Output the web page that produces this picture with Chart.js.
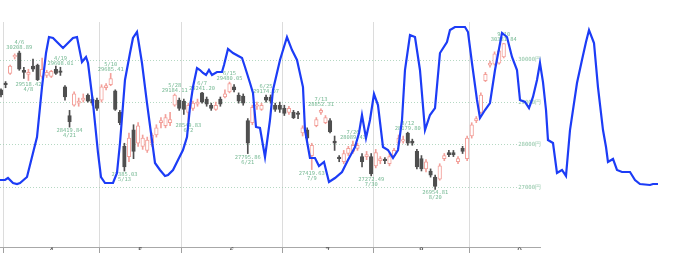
<!DOCTYPE html>
<html>
<head>
<meta charset="utf-8">
<script src="https://cdn.jsdelivr.net/npm/chart.js@4.4.0/dist/chart.umd.min.js"></script>
<style>
  html, body { margin: 0; padding: 0; background: #fff; }
  #wrap { position: relative; width: 689px; height: 254px; overflow: hidden; }
  #candles, #overlay { position: absolute; left: 0; top: 0; }
  #overlay { pointer-events: none; }
</style>
</head>
<body>
<div id="wrap">
  <canvas id="candles" width="541" height="254"></canvas>
  <canvas id="overlay" width="689" height="254"></canvas>
</div>
<script>
// daily candles, index 0 = 3/31, 1 = 4/1 ... 110 = 9/10
const opens = [29298,29443,29685,30072,30169,29758,29661,29855,29879,29613,
  29637,29613,29782,29734,29371,28693,28935,28984,29056,29177,
  29080,29056,29056,29347,29419,29274,28766,27968,27726,28355,
  28040,27968,27871,28040,28234,28524,28452,28524,28935,29056,
  29032,28766,28863,28960,29230,29080,28935,28839,29080,29129,
  29250,29371,29177,29153,28573,28524,28911,28839,29129,29129,
  28935,28935,28863,28766,28766,28742,28282,28355,27750,28452,
  28766,28524,28573,28089,27702,27605,27798,27847,27919,27726,
  27726,27726,27508,27629,27653,27557,27750,28040,28089,28282,
  28089,27847,27677,27436,27387,27242,27194,27677,27823,27823,
  27605,27919,27677,28210,28573,28766,29516,29879,29903,29927,
  30072];
const highs = [29322,29492,29879,30145,30209,29830,29782,30024,29903,30048,
  29758,29758,29855,29830,29395,28814,29250,29105,29201,29201,
  29129,29105,29419,29443,29685,29298,28814,28040,28282,28476,
  28524,28234,28185,28282,28476,28645,28718,28766,29201,29105,
  29080,28984,29032,29080,29241,29129,28984,29008,29129,29298,
  29480,29419,29226,29201,28621,28935,29008,28984,29174,29177,
  28984,29008,28935,28911,28814,28790,28452,28403,28040,28645,
  28852,28693,28621,28210,27750,27871,27968,28089,28040,27798,
  27847,27798,27895,27726,27702,27798,27919,28234,28210,28300,
  28137,27895,27750,27653,27436,27290,27557,27798,27871,27871,
  27726,27968,28210,28524,28669,29226,29709,29975,30193,30266,
  30390];
const lows = [29129,29347,29661,30024,29758,29564,29518,29734,29516,29564,
  29588,29588,29661,29637,29056,28420,28911,28911,29008,29008,
  28935,28814,29008,29298,29395,28814,28476,27385,27605,27677,
  27968,27895,27823,27968,28185,28403,28403,28452,28911,28814,
  28718,28550,28814,28911,28984,28911,28814,28814,28911,29105,
  29226,29250,28984,28935,27796,28476,28839,28814,29008,28984,
  28790,28766,28693,28718,28621,28621,28210,28113,27420,28427,
  28718,28500,28282,27871,27605,27557,27750,27798,27871,27484,
  27653,27272,27460,27557,27557,27508,27726,27992,28040,27992,
  27992,27436,27387,27363,27242,26954,27170,27629,27726,27726,
  27557,27798,27629,28161,28524,28742,29492,29830,29879,29903,
  30048];
const closes = [29177,29419,29855,30097,29782,29709,29709,29782,29540,29782,
  29709,29734,29685,29709,29129,28548,29201,29032,29105,29032,
  28984,28863,29371,29395,29564,28839,28524,27484,28161,27847,
  28452,28161,28113,28234,28403,28573,28645,28597,29177,28863,
  28839,28935,28984,29008,29008,28960,28863,28935,28960,29201,
  29443,29298,29032,28984,28040,28887,28935,28935,29056,29032,
  28839,28839,28742,28863,28645,28718,28403,28161,27992,28597,
  28814,28645,28306,28040,27677,27798,27919,27992,27992,27605,
  27774,27315,27823,27677,27629,27726,27871,28161,28113,28040,
  28040,27484,27436,27605,27290,27024,27508,27750,27774,27774,
  27677,27847,28161,28476,28621,29177,29661,29927,30145,30217,
  30387];

// month boundaries in trading-day index, and month names
const monthStarts = [0.5, 21.5, 39.5, 61.5, 81.5, 102.5, 124.5];
const monthNames = ['4', '5', '6', '7', '8', '9'];
const yTicks = [27000, 28000, 29000, 30000];

// high / low annotations
const markIndex = [4, 6, 13, 15, 24, 27, 38, 41, 44, 50, 54, 58, 68, 70, 77, 81, 89, 95, 110];
const markSide = ['high','low','high','low','high','low','high','low','high','high','low','high','low','high','high','low','high','low','high'];
const markDate = ['4/6','4/8','4/19','4/21','5/10','5/13','5/28','6/2','6/7','6/15','6/21','6/25','7/9','7/13','7/26','7/30','8/12','8/20','9/10'];
const markText = ['30208.89','29518.42','29608.01','28419.84','29685.41','27385.03','29184.11','28549.83','29241.20','29480.05','27795.86','29174.07','27419.63','28852.31','28089.43','27272.49','28179.80','26954.81','30381.84'];

// blue overlay series
const lineX = [-0.22,0.88,1.53,2.63,3.5,4.16,5.69,7.0,7.88,8.97,
  9.85,10.5,11.38,12.47,13.57,14.66,15.75,16.63,17.72,18.6,
  19.04,20.13,21.23,21.88,22.76,24.51,25.38,26.04,27.13,28.23,
  28.88,29.76,30.85,31.95,32.82,33.7,34.79,35.89,36.54,37.64,
  38.73,39.82,40.7,41.36,42.01,42.89,43.54,44.2,44.86,45.51,
  46.17,47.26,48.36,48.8,49.67,50.77,52.74,53.39,54.49,55.14,
  55.8,56.67,57.77,58.86,59.52,61.05,62.58,63.68,64.77,66.08,
  66.52,67.61,68.71,69.58,70.68,71.77,73.09,74.62,75.93,77.46,
  78.34,78.99,79.87,80.74,81.62,82.49,83.59,84.68,85.78,86.87,
  87.75,88.4,89.5,90.59,91.68,92.78,93.87,94.97,96.06,97.59,
  98.25,99.34,101.53,102.19,103.06,104.16,104.81,105.91,107,108.1,
  109.63,110.72,111.82,112.91,113.57,114.66,115.54,116.41,117.29,117.94,
  118.6,119.26,119.69,120.79,121.66,122.76,123.63,124.51,126.04,127.13,
  128.01,128.67,129.76,130.63,131.73,132.39,132.82,133.92,134.79,135.89,
  137.64,138.73,139.82,142.01,142.67,143.76];
const lineY = [27073,27073,27121,27000,26976,27000,27145,27726,28113,29322,
  30145,30532,30508,30387,30266,30387,30508,30532,29927,30048,
  29903,28935,27726,27145,27000,27000,27242,27968,29492,30145,
  30508,30653,29903,28935,28210,27484,27315,27170,27194,27315,
  27557,27798,28113,28839,29322,29782,29734,29661,29613,29734,
  29613,29685,29685,29855,30242,30145,30024,29806,29419,29177,
  28355,28331,27629,28524,29250,29976,30532,30217,29976,29322,
  28282,27605,27605,27411,27508,27024,27121,27266,27557,27871,
  28210,28645,28089,28524,29153,28887,27871,27798,27605,27798,
  28524,29734,30580,30532,29734,28282,28645,28814,30145,30411,
  30701,30774,30774,30653,29903,29008,28573,28766,28935,29734,
  30629,30532,30048,29734,29008,28960,28814,29081,29492,29903,
  29443,28766,28040,27968,27242,27315,27170,28282,29419,29976,
  30411,30701,30387,29322,28282,27871,27508,27581,27315,27266,
  27266,27073,26976,26952,26976,26976];

const Y_MIN = 25597, Y_MAX = 30895;
const UP = '#f3a09a', DOWN = '#4f4f4f';
const MARK_COLOR = 'rgba(70,160,110,0.75)';
const MONO = '"DejaVu Sans Mono", monospace';

const idx = opens.map((_, i) => i);
const isUp = idx.map(i => closes[i] >= opens[i]);

const monthMids = monthNames.map((_, k) => (monthStarts[k] + monthStarts[k + 1]) / 2);
const monthLabel = new Map(monthMids.map((v, k) => [v, monthNames[k]]));
const boundarySet = new Set(monthStarts.slice(0, -1));

const priceMarks = {
  id: 'priceMarks',
  afterDatasetsDraw(chart) {
    const { ctx, scales: { x, y } } = chart;
    ctx.save();
    ctx.font = '5.4px ' + MONO;
    ctx.fillStyle = MARK_COLOR;
    ctx.textAlign = 'center';
    markIndex.forEach((i, k) => {
      const px = x.getPixelForValue(i);
      if (markSide[k] === 'high') {
        const py = y.getPixelForValue(highs[i]);
        ctx.textBaseline = 'bottom';
        ctx.fillText(markText[k], px, py - 1);
        ctx.fillText(markDate[k], px, py - 6);
      } else {
        const py = y.getPixelForValue(lows[i]);
        ctx.textBaseline = 'top';
        ctx.fillText(markText[k], px, py + 1);
        ctx.fillText(markDate[k], px, py + 6);
      }
    });
    ctx.restore();
  }
};

new Chart(document.getElementById('candles'), {
  data: {
    datasets: [
      {
        type: 'bar',
        label: 'body',
        data: idx.map(i => ({ x: i, y: [opens[i], closes[i]] })),
        backgroundColor: idx.map(i => isUp[i] ? '#ffffff' : DOWN),
        borderColor: idx.map(i => isUp[i] ? UP : DOWN),
        borderWidth: 1,
        borderSkipped: false,
        barThickness: 3.6,
        minBarLength: 1.5,
        grouped: false,
        order: 0
      },
      {
        type: 'bar',
        label: 'wick',
        data: idx.map(i => ({ x: i, y: [lows[i], highs[i]] })),
        backgroundColor: idx.map(i => isUp[i] ? UP : DOWN),
        borderWidth: 0,
        barThickness: 1,
        grouped: false,
        order: 1
      }
    ]
  },
  options: {
    responsive: false,
    animation: false,
    layout: { padding: { top: 22, bottom: 4, left: 0, right: 0 } },
    plugins: { legend: { display: false }, tooltip: { enabled: false } },
    scales: {
      x: {
        type: 'linear',
        min: -0.219,
        max: 118.16,
        offset: false,
        afterBuildTicks: axis => {
          const vals = [...boundarySet, ...monthMids].sort((a, b) => a - b);
          axis.ticks = vals.map(v => ({ value: v }));
        },
        ticks: {
          autoSkip: false,
          maxRotation: 0,
          padding: -6,
          color: '#333',
          font: { size: 7.5, family: '"DejaVu Sans"' },
          callback: v => monthLabel.get(v) || ''
        },
        grid: {
          offset: false,
          tickLength: 6,
          color: c => boundarySet.has(c.tick && c.tick.value) ? '#dcdcdc' : 'rgba(0,0,0,0)',
          tickColor: c => boundarySet.has(c.tick && c.tick.value) ? '#a0a0a0' : 'rgba(0,0,0,0)'
        },
        border: { color: '#a8a8a8' }
      },
      y: {
        position: 'right',
        min: Y_MIN,
        max: Y_MAX,
        afterBuildTicks: axis => { axis.ticks = yTicks.map(v => ({ value: v })); },
        ticks: {
          mirror: true,
          padding: 0,
          color: 'rgba(110,180,140,0.8)',
          font: { size: 5.6, family: MONO },
          showLabelBackdrop: true,
          backdropColor: '#ffffff',
          backdropPadding: 1,
          callback: v => v + '円'
        },
        grid: { drawTicks: false, tickLength: 0, color: 'rgba(150,200,170,0.7)' },
        border: { display: false, dash: [1, 2] }
      }
    }
  },
  plugins: [priceMarks]
});

new Chart(document.getElementById('overlay'), {
  type: 'line',
  data: {
    datasets: [{
      label: 'overlay',
      data: lineX.map((x, k) => ({ x, y: lineY[k] })),
      borderColor: '#1c3cf6',
      borderWidth: 2.2,
      pointRadius: 0,
      tension: 0,
      fill: false
    }]
  },
  options: {
    responsive: false,
    animation: false,
    layout: { padding: { top: 22, bottom: 13, left: 0, right: 0 } },
    plugins: { legend: { display: false }, tooltip: { enabled: false } },
    scales: {
      x: { type: 'linear', display: false, min: -0.219, max: 150.55 },
      y: { display: false, min: Y_MIN, max: Y_MAX }
    }
  }
});
</script>
</body>
</html>
